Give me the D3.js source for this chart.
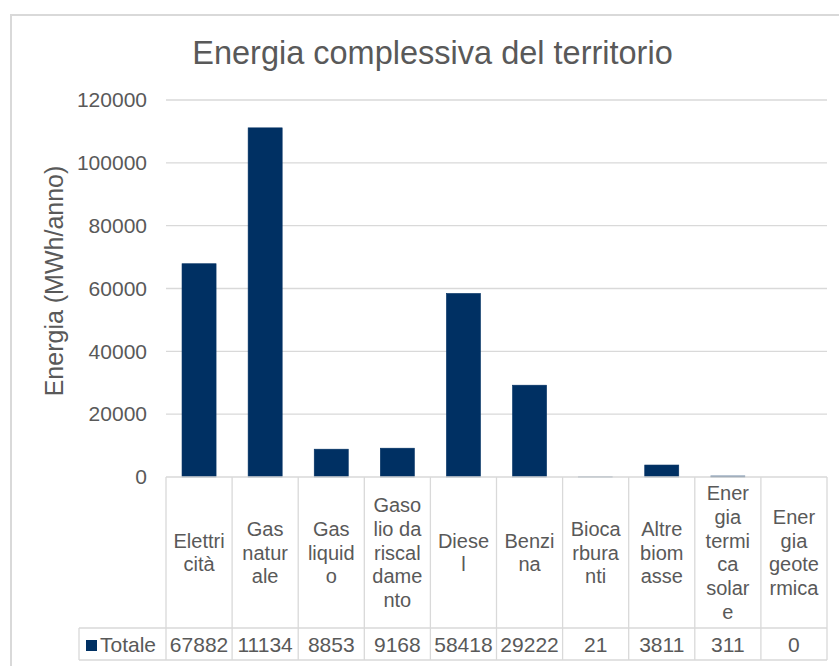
<!DOCTYPE html>
<html>
<head>
<meta charset="utf-8">
<script src="https://cdn.jsdelivr.net/npm/d3@7"></script>
<style>
  body { margin: 0; background: #fff; }
  text { font-family: "Liberation Sans", Arial, sans-serif; fill: #595959; }
</style>
</head>
<body>
<svg width="839" height="666"></svg>
<script>
// categories (as wrapped in the data table) and values
const categories = ['Elettricità','Gas naturale','Gas liquido','Gasolio da riscaldamento','Diesel',
                    'Benzina','Biocarburanti','Altre biomasse','Energia termica solare','Energia geotermica'];
const categoryLines = [
    ['Elettri','cità'],
    ['Gas','natur','ale'],
    ['Gas','liquid','o'],
    ['Gaso','lio da','riscal','dame','nto'],
    ['Diese','l'],
    ['Benzi','na'],
    ['Bioca','rbura','nti'],
    ['Altre','biom','asse'],
    ['Ener','gia','termi','ca','solar','e'],
    ['Ener','gia','geote','rmica']
];
const values = [67882, 111134, 8853, 9168, 58418, 29222, 21, 3811, 311, 0];
// what the table cells show (the wide value is clipped in its cell)
const tableLabels = ['67882','11134','8853','9168','58418','29222','21','3811','311','0'];
const yTicks = [0, 20000, 40000, 60000, 80000, 100000, 120000];
const seriesName = 'Totale';

const svg = d3.select('svg');
const barColor = '#003063';
const gridColor = '#d9d9d9';

const plotL = 166, plotR = 827, plotT = 100, plotB = 477;
const headerBottom = 628, tableBottom = 660, legendLeft = 79;

// chart frame
svg.append('path')
    .attr('d', `M11,680 V15 H850`)
    .attr('fill','none').attr('stroke', gridColor).attr('stroke-width',2);

// title
svg.append('text')
    .attr('x', 432.5).attr('y', 63.5)
    .attr('text-anchor','middle')
    .attr('font-size', 32.5)
    .text('Energia complessiva del territorio');

const x = d3.scaleBand()
    .domain(categories)
    .range([plotL, plotR])
    .paddingInner(0.485)
    .paddingOuter(0.2425);

const cell = d3.scaleBand().domain(categories).range([plotL, plotR]);

const y = d3.scaleLinear().domain([0, 120000]).range([plotB, plotT]);

// gridlines
svg.append('g').selectAll('line')
    .data(yTicks.filter(d => d > 0))
    .enter().append('line')
    .attr('x1', plotL).attr('x2', plotR)
    .attr('y1', d => y(d)).attr('y2', d => y(d))
    .attr('stroke', gridColor).attr('stroke-width',1.3);

// y axis labels
const gY = svg.append('g')
    .attr('transform', `translate(${plotL},0)`)
    .call(d3.axisLeft(y).tickValues(yTicks).tickSize(0).tickPadding(19).tickFormat(d3.format('d')));
gY.select('.domain').remove();
gY.selectAll('text')
    .attr('font-size', 21)
    .attr('font-family','"Liberation Sans", Arial, sans-serif')
    .attr('fill','#595959');

// y axis title
svg.append('text')
    .attr('transform', `translate(63,281) rotate(-90)`)
    .attr('text-anchor','middle')
    .attr('font-size', 25)
    .text('Energia (MWh/anno)');

// bars
svg.append('g').selectAll('rect')
    .data(values)
    .enter().append('rect')
    .attr('x', (d,i) => x(categories[i]))
    .attr('width', x.bandwidth())
    .attr('y', d => y(d))
    .attr('height', d => plotB - y(d))
    .attr('fill', barColor)
    .attr('stroke', d => d > 0 ? barColor : 'none')
    .attr('stroke-width', 0.6);

// data table grid
const tbl = svg.append('g').attr('stroke', gridColor).attr('stroke-width',1.3);
tbl.append('line').attr('x1', plotL).attr('x2', plotR).attr('y1', plotB).attr('y2', plotB);
tbl.append('line').attr('x1', legendLeft).attr('x2', plotR).attr('y1', headerBottom).attr('y2', headerBottom);
tbl.append('line').attr('x1', legendLeft).attr('x2', plotR).attr('y1', tableBottom).attr('y2', tableBottom);
tbl.append('line').attr('x1', legendLeft).attr('x2', legendLeft).attr('y1', headerBottom).attr('y2', tableBottom);
tbl.selectAll('.v')
    .data(categories.concat(['end']))
    .enter().append('line')
    .attr('x1', d => d === 'end' ? plotR : cell(d))
    .attr('x2', d => d === 'end' ? plotR : cell(d))
    .attr('y1', plotB).attr('y2', tableBottom);

// category header text
const lineH = 23.7;
const headerMid = (plotB + headerBottom) / 2;
svg.append('g').selectAll('text')
    .data(categories)
    .enter().append('text')
    .attr('text-anchor','middle')
    .attr('font-size', 20)
    .each(function(d, i) {
        const lines = categoryLines[i];
        const y0 = headerMid - (lines.length - 1) * lineH / 2 + 7;
        d3.select(this).selectAll('tspan')
            .data(lines)
            .enter().append('tspan')
            .attr('x', cell(d) + cell.bandwidth() / 2)
            .attr('y', (l, k) => y0 + k * lineH)
            .text(l => l);
    });

// values row
const rowMid = (headerBottom + tableBottom) / 2;
svg.append('g').selectAll('text')
    .data(tableLabels)
    .enter().append('text')
    .attr('x', (d,i) => cell(categories[i]) + cell.bandwidth() / 2)
    .attr('y', rowMid + 7.5)
    .attr('text-anchor','middle')
    .attr('font-size', 21)
    .text(d => d);

// legend key
svg.append('rect')
    .attr('x', 86).attr('y', 640).attr('width', 11).attr('height', 11)
    .attr('fill', barColor);
svg.append('text')
    .attr('x', 100).attr('y', rowMid + 7.5)
    .attr('font-size', 21)
    .text(seriesName);
</script>
</body>
</html>
